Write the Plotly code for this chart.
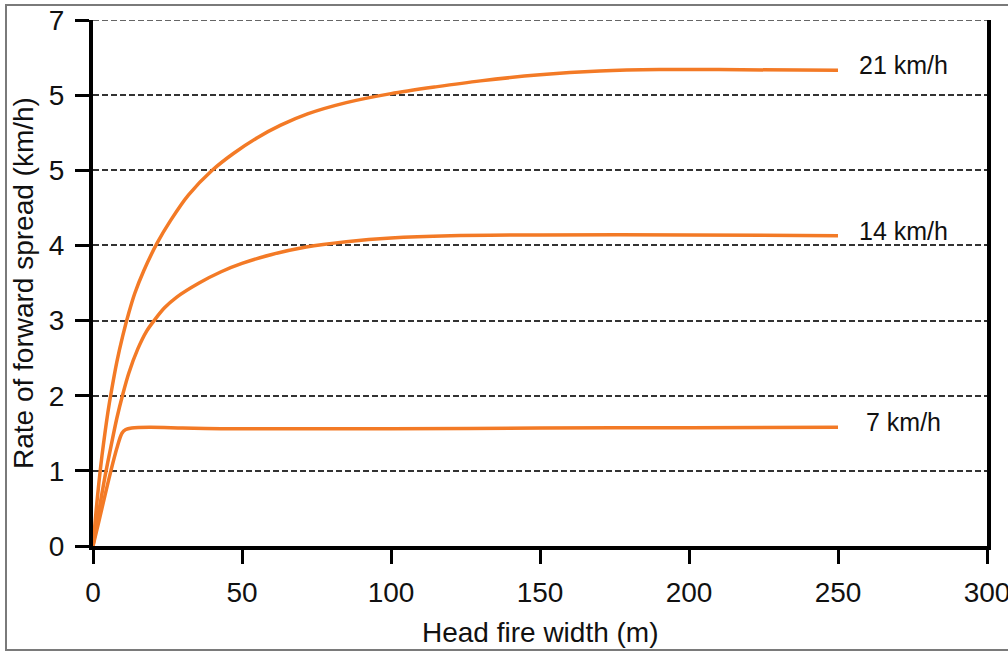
import plotly.graph_objects as go

# Head fire width (m) vs rate of forward spread (km/h)
x21 = [0, 1, 2, 3, 4, 5, 6, 8, 10, 12, 14, 17, 21.5, 26, 32, 40, 47, 55, 63, 72, 85, 100, 115, 130, 150, 170, 190, 210, 250]
y21 = [0, 0.45, 0.85, 1.2, 1.5, 1.78, 2.02, 2.45, 2.8, 3.1, 3.36, 3.66, 4.03, 4.33, 4.67, 5.0, 5.22, 5.43, 5.6, 5.75, 5.9, 6.02, 6.11, 6.19, 6.27, 6.32, 6.34, 6.34, 6.33]

x14 = [0, 2, 4, 6, 8, 10, 12, 15, 18, 20.5, 24, 28, 35.6, 43, 50, 60, 71.5, 85, 100, 120, 150, 200, 250]
y14 = [0, 0.47, 0.92, 1.32, 1.7, 2.02, 2.3, 2.62, 2.86, 3.0, 3.17, 3.31, 3.5, 3.65, 3.76, 3.88, 3.98, 4.05, 4.1, 4.13, 4.14, 4.14, 4.13]

x7 = [0, 2, 4, 6, 8, 9.7, 11, 13, 19, 30, 43, 70, 100, 150, 200, 250]
y7 = [0, 0.33, 0.67, 1.0, 1.3, 1.5, 1.55, 1.57, 1.58, 1.57, 1.56, 1.56, 1.56, 1.57, 1.575, 1.58]

series_names = ["21 km/h", "14 km/h", "7 km/h"]

y_tickvals = [0, 1, 2, 3, 4, 5, 6, 7]
y_ticktext = ["0", "1", "2", "3", "4", "5", "5", "7"]
x_tickvals = [0, 50, 100, 150, 200, 250, 300]

x_title = "Head fire width (m)"
y_title = "Rate of forward spread (km/h)"

ORANGE = "#f37a26"
FONT = "Liberation Sans, Arial, sans-serif"

W, H = 1008, 652
ml, mr, mt, mb = 93, 21, 20, 106
pw, ph = W - ml - mr, H - mt - mb


def px_x(p):
    return (p - ml) / pw


def px_y(p):
    return (mt + ph - p) / ph


fig = go.Figure()
for xs, ys, nm in zip([x21, x14, x7], [y21, y14, y7], series_names):
    fig.add_trace(go.Scatter(x=xs, y=ys, mode="lines", name=nm,
                             line=dict(color=ORANGE, width=3.5, shape="spline", smoothing=0.8),
                             showlegend=False, cliponaxis=True, hoverinfo="skip"))
    fig.add_annotation(x=px_x(903), xref="paper", y=ys[-1], yref="y", text=nm,
                       showarrow=False, xanchor="center", yanchor="middle", yshift=5,
                       font=dict(family=FONT, size=25, color="#111"))

# axis titles
fig.add_annotation(x=0.5, xref="paper", y=px_y(632), yref="paper", text=x_title,
                   showarrow=False, xanchor="center", yanchor="middle",
                   font=dict(family=FONT, size=28, color="#111"))
fig.add_annotation(x=px_x(23), xref="paper", y=0.5, yref="paper", text=y_title,
                   showarrow=False, xanchor="center", yanchor="middle", textangle=-90,
                   font=dict(family=FONT, size=28, color="#111"))

# top dashed grid line at y = 7
fig.add_shape(type="line", xref="paper", yref="y", x0=0, x1=1, y0=7, y1=7,
              line=dict(color="#333", width=1.5, dash="6px,3px"), layer="above")

# outer gray frame
fig.add_shape(type="rect", xref="paper", yref="paper",
              x0=px_x(6), x1=px_x(1014), y0=px_y(650), y1=px_y(5),
              line=dict(color="#7a7a7a", width=2), fillcolor="rgba(0,0,0,0)", layer="below")

fig.update_layout(
    width=W, height=H,
    margin=dict(l=ml, r=mr, t=mt, b=mb, autoexpand=False),
    paper_bgcolor="white", plot_bgcolor="white",
    font=dict(family=FONT, color="#111"),
    hovermode=False,
    xaxis=dict(range=[0, 300], tickvals=x_tickvals, ticks="outside", ticklen=14, tickwidth=3,
               tickcolor="black", showline=True, linewidth=4, linecolor="black",
               showgrid=False, zeroline=False, tickfont=dict(size=28), automargin=False,
               ticklabeloverflow="allow", ticklabelstandoff=4),
    yaxis=dict(range=[0, 7], tickvals=y_tickvals, ticktext=y_ticktext, ticks="outside",
               ticklen=14, tickwidth=3, tickcolor="black", showline=True, linewidth=4,
               linecolor="black", mirror=True, showgrid=True, gridcolor="#333",
               griddash="6px,3px", gridwidth=1.5, zeroline=False, tickfont=dict(size=28),
               automargin=False, ticklabeloverflow="allow", ticklabelstandoff=5),
)

fig.write_html("out.html", config={"displayModeBar": False},
               post_script="document.body.style.margin='0px';")
